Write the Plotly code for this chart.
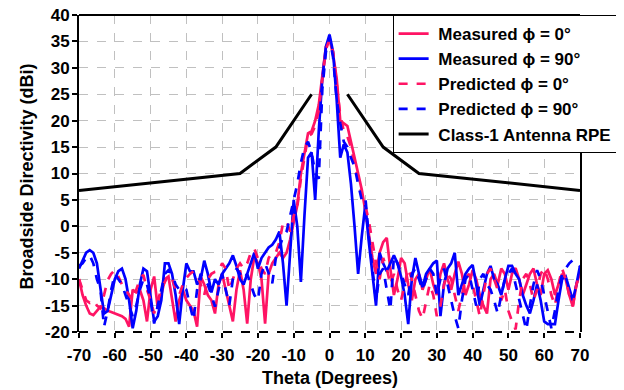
import plotly.graph_objects as go

theta = list(range(-70, 71))

meas_phi0 = [
    -10, -13, -15, -16.5, -16.8, -16, -15.2, -15.5, -16, -16.2,
    -16.5, -16.8, -17, -17.5, -19, -12, -12.5, -12, -14, -18,
    -12, -9.5, -15.5, -13, -10, -9.5, -14, -18, -14, -12,
    -14, -15, -16, -19, -9.5, -11, -13, -14, -16.5, -11,
    -9, -12, -15, -18, -12, -8.3, -12, -18.4, -10, -5.7,
    -7, -10, -18.4, -9, -7, -6, -5, -6, -5, -2.5,
    0.5, 4, 10, 14, 17.6, 18, 20, 23, 29, 34,
    35.5,
    32.5, 28, 20, 19.5, 19, 16, 13, 10, 7, 3,
    -2, -6, -9, -5, -3, -2.2, -8, -13, -10, -6,
    -7, -11, -14, -10, -9, -12, -10, -8, -11, -13,
    -9, -7, -10, -12, -9, -6.7, -9, -13, -11, -8.3,
    -10, -13, -15, -16.5, -10, -9, -11, -8, -9, -12,
    -9, -7.9, -10, -13, -11, -9, -8, -11, -13, -9,
    -8.3, -10, -13, -11, -9, -10, -13, -15.2, -11, -8.8,
]

meas_phi90 = [
    -8, -6.5, -5, -4.5, -5, -7, -12, -16.5, -16, -13,
    -10, -8.5, -8, -10, -14, -19.3, -16, -11, -8, -8.5,
    -13, -18, -17, -14, -7, -7, -9, -13, -18.5, -12,
    -7, -8.5, -8.5, -11, -10, -6.5, -9, -12.5, -10, -11,
    -9, -8, -7, -5.5, -7.5, -10, -11, -9, -7, -5,
    -8, -6, -5, -4, -3.5, -2.5, -1, -7, -15, -5,
    5, 0, -10.5, 2, 13, 14, 5, 18, 28, 34,
    36.3,
    33, 24, 13, 15.5, 14, 8, 0, -9, -2, 4,
    -3, -9, -15, -5, -7, -8.5, -7, -5.5, -7, -9.5,
    -13, -18.5, -10, -6, -9, -11.5, -9, -8, -7, -6.5,
    -17, -11, -8, -7, -5, -13, -11, -9, -8, -7.3,
    -11, -15, -12, -9, -7.5, -10, -11, -13, -10, -7.5,
    -7.5, -9, -10, -13, -15, -16.5, -14, -11, -14, -18,
    -18.5, -18.5, -18.5, -14, -10, -9.5, -12, -14, -11, -7.5,
]

pred_phi0 = [
    -10, -12, -14, -14.5, -14, -15, -15.5, -13, -10.2, -9,
    -8.3, -9.5, -11, -12, -13, -14, -12, -10, -9.2, -12,
    -14, -16.5, -14, -12, -10.5, -9.2, -10, -12, -13, -11,
    -9.8, -9, -8.5, -9, -11, -13, -10, -9, -8.6, -8.5,
    -7, -8, -12, -10, -8, -7, -8, -7, -5, -4.2,
    -6, -8, -9, -6, -5, -5, -3, 0.6, 1, -1,
    2, 3.7, 9, 13, 17, 17.5, 19, 22, 28, 33.5,
    35.3,
    33, 27, 21, 18, 17, 15, 12, 9, 6, 4,
    1, -3, -7, -10, -6, -8, -11, -9, -12, -14,
    -11, -8, -10, -13, -16, -17.5, -14, -11, -13, -17,
    -15, -11, -9, -10, -13, -16, -13, -10, -9, -11,
    -14, -17, -13, -9, -8, -10, -12, -14, -12, -16,
    -18, -19.5, -14, -10, -9, -11, -14, -12, -9, -8,
    -10, -13, -15, -11, -8, -10, -13, -15, -11, -9,
]

pred_phi90 = [
    -7.5, -7, -6, -5.5, -7, -10, -12, -19, -16, -12,
    -9, -10, -11, -13, -15, -17, -15, -12, -10, -11,
    -14, -18.4, -15, -12, -9, -8.3, -9, -11, -12, -11.5,
    -12, -15, -17.7, -12, -9, -10, -11, -13, -15.2, -12,
    -9, -12, -14.9, -10, -8, -9, -10, -9, -11, -13,
    -14, -9, -7, -9, -10.8, -6, -4, -2, -1, 2,
    5, 8, 12, 15, 16, 14, 10, 9, 26, 33,
    35.8,
    32, 24, 19.5, 16, 15, 13, 11.3, 8, 5, 5.6,
    -2, -8, -14, -9, -8, -12, -15.8, -5.7, -7, -9,
    -11, -13, -9, -8, -10, -12, -10, -8, -9, -13,
    -10, -8, -11, -14, -17, -19.3, -14, -10, -9, -12,
    -15, -10, -9, -11, -12, -14, -16.5, -13, -10, -9,
    -8, -11, -14, -17, -19.6, -15, -11, -8.3, -10, -13,
    -16, -19.3, -16, -12, -9, -8, -7, -6.4, -6.8, -7.5,
]

rpe_theta = [-70, -25, -15, -5, None, 5, 15, 25, 70]
rpe_val = [6.8, 10, 15, 25, None, 25, 15, 10, 6.8]

x_ticks = list(range(-70, 71, 10))
y_ticks = list(range(-20, 41, 5))

PINK = "#ff1464"
BLUE = "#0000ff"
FAM = "Liberation Sans, Arial, sans-serif"
NB = "\u00a0"

fig = go.Figure()
fig.add_trace(go.Scatter(x=theta, y=meas_phi0, mode="lines", name=NB + "Measured \u03d5 = 0\u00b0",
                         line=dict(color=PINK, width=2.7)))
fig.add_trace(go.Scatter(x=theta, y=meas_phi90, mode="lines", name=NB + "Measured \u03d5 = 90\u00b0",
                         line=dict(color=BLUE, width=2.7)))
fig.add_trace(go.Scatter(x=theta, y=pred_phi0, mode="lines", name=NB + "Predicted \u03d5 = 0\u00b0",
                         line=dict(color=PINK, width=2.7, dash="dash")))
fig.add_trace(go.Scatter(x=theta, y=pred_phi90, mode="lines", name=NB + "Predicted \u03d5 = 90\u00b0",
                         line=dict(color=BLUE, width=2.7, dash="dash")))
fig.add_trace(go.Scatter(x=rpe_theta, y=rpe_val, mode="lines", name=NB + "Class-1 Antenna RPE",
                         line=dict(color="black", width=3), connectgaps=False))

fig.update_layout(
    width=616, height=382,
    margin=dict(l=71, r=44, t=7, b=58),
    paper_bgcolor="white", plot_bgcolor="white",
    font=dict(family=FAM, size=17, color="black"),
    showlegend=True,
    legend=dict(x=0.626, y=1.0, xanchor="left", yanchor="top",
                bgcolor="white", bordercolor="black", borderwidth=1,
                font=dict(family=FAM, size=17, color="black", weight="bold"),
                tracegroupgap=0, itemwidth=30),
    xaxis=dict(range=[-70, 70], tickvals=x_ticks, ticktext=[str(v) for v in x_ticks],
               showgrid=True, gridcolor="#c0c0c0", griddash="dash", gridwidth=1.2,
               zeroline=False, showline=False, ticks="outside", ticklen=5, tickcolor="black",
               tickwidth=1.5, automargin=False, ticklabelstandoff=3,
               ticklabeloverflow="allow",
               tickfont=dict(family=FAM, size=17, weight="bold")),
    yaxis=dict(range=[-20, 40], tickvals=y_ticks, ticktext=[str(v) for v in y_ticks],
               showgrid=True, gridcolor="#c0c0c0", griddash="dash", gridwidth=1.2,
               zeroline=False, showline=True, linecolor="black", linewidth=2, mirror=True,
               ticks="outside", ticklen=5, tickcolor="black", tickwidth=1.5, automargin=False,
               ticklabelstandoff=-1, ticklabeloverflow="allow",
               tickfont=dict(family=FAM, size=17, weight="bold")),
    annotations=[
        dict(text="<b>Theta (Degrees)</b>", xref="paper", yref="paper", x=0.5, y=-0.145,
             xanchor="center", yanchor="middle", showarrow=False,
             font=dict(family=FAM, size=18, color="black")),
        dict(text="<b>Broadside Directivity (dBi)</b>", xref="paper", yref="paper",
             x=-0.104, y=0.49, xanchor="center", yanchor="middle", textangle=-90,
             showarrow=False, font=dict(family=FAM, size=18, color="black")),
    ],
    shapes=[
        dict(type="line", xref="paper", yref="paper", x0=0, x1=1, y0=1, y1=1,
             line=dict(color="black", width=2)),
        dict(type="line", xref="paper", yref="paper", x0=0, x1=1, y0=0, y1=0,
             line=dict(color="black", width=2, dash="dash")),
    ],
)

fig.write_html("out.html")
